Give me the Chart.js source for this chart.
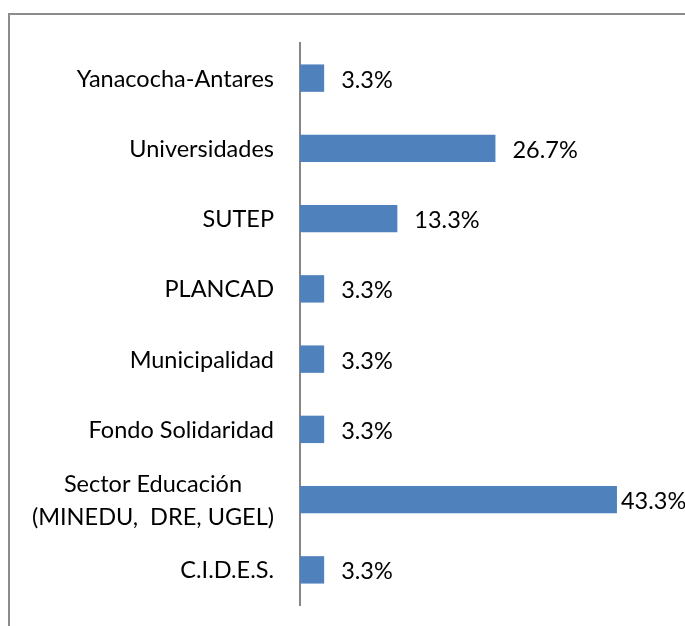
<!DOCTYPE html>
<html>
<head>
<meta charset="utf-8">
<script src="https://cdn.jsdelivr.net/npm/chart.js@4"></script>
<style>
    html, body { margin: 0; padding: 0; background: #fff; overflow: hidden; }
    #frame {
        position: absolute; left: 8px; top: 13px;
        width: 760px; height: 700px;
        border: 2px solid #8c8c8c;
        box-sizing: border-box;
    }
    #wrap { position: absolute; left: 0; top: 0; width: 685px; height: 626px; }
</style>
</head>
<body>
<div id="frame"></div>
<div id="wrap"><canvas id="chart" width="685" height="626"></canvas></div>
<script>
// ========================================
// Datos del gráfico
// ========================================
const categories = [
    ['Yanacocha-Antares'],
    ['Universidades'],
    ['SUTEP'],
    ['PLANCAD'],
    ['Municipalidad'],
    ['Fondo Solidaridad'],
    ['Sector Educación', '(MINEDU,  DRE, UGEL)'],
    ['C.I.D.E.S.']
];
const values = [3.3, 26.7, 13.3, 3.3, 3.3, 3.3, 43.3, 3.3];
const valueLabels = ['3.3%', '26.7%', '13.3%', '3.3%', '3.3%', '3.3%', '43.3%', '3.3%'];

const FONT = '23.5px Lato, "Open Sans", sans-serif';

// etiquetas de categoría (líneas centradas entre sí, alineadas a la derecha)
const categoryLabels = {
    id: 'categoryLabels',
    afterDraw(chart) {
        const ctx = chart.ctx;
        const yScale = chart.scales.y;
        const right = chart.chartArea.left - 26;
        const lineH = 33;
        ctx.save();
        ctx.font = FONT;
        ctx.fillStyle = '#000';
        ctx.textBaseline = 'middle';
        ctx.textAlign = 'center';
        categories.forEach((lines, i) => {
            const y = yScale.getPixelForValue(i);
            const w = Math.max(...lines.map(l => ctx.measureText(l).width));
            const cx = right - w / 2;
            const y0 = y - (lines.length - 1) * lineH / 2;
            lines.forEach((l, j) => ctx.fillText(l, cx, y0 + j * lineH + 1));
        });
        ctx.restore();
    }
};

// etiquetas de valor a la derecha de cada barra
const valueLabelPlugin = {
    id: 'valueLabels',
    afterDatasetsDraw(chart) {
        const ctx = chart.ctx;
        const meta = chart.getDatasetMeta(0);
        ctx.save();
        ctx.font = FONT;
        ctx.fillStyle = '#000';
        ctx.textBaseline = 'middle';
        ctx.textAlign = 'left';
        meta.data.forEach((bar, i) => {
            const text = valueLabels[i];
            const w = ctx.measureText(text).width;
            let x = bar.x + 17;
            if (x + w > chart.width) x = bar.x + 4;
            ctx.fillText(text, x, bar.y + 2);
        });
        ctx.restore();
    }
};

new Chart(document.getElementById('chart'), {
    type: 'bar',
    data: {
        labels: categories.map(c => c.join(' ')),
        datasets: [{
            data: values,
            backgroundColor: '#4F81BD',
            borderWidth: 0,
            barPercentage: 0.39,
            categoryPercentage: 1
        }]
    },
    options: {
        indexAxis: 'y',
        responsive: false,
        animation: false,
        layout: {
            padding: { left: 300, top: 43, bottom: 21, right: 19 }
        },
        scales: {
            x: {
                display: false,
                min: 0,
                max: 50
            },
            y: {
                display: true,
                ticks: { display: false },
                grid: { display: false, drawTicks: false },
                border: { display: true, color: '#868686', width: 2 },
                afterFit(scale) { scale.width = 0; }
            }
        },
        plugins: {
            legend: { display: false },
            tooltip: { enabled: false }
        }
    },
    plugins: [categoryLabels, valueLabelPlugin]
});
</script>
</body>
</html>
